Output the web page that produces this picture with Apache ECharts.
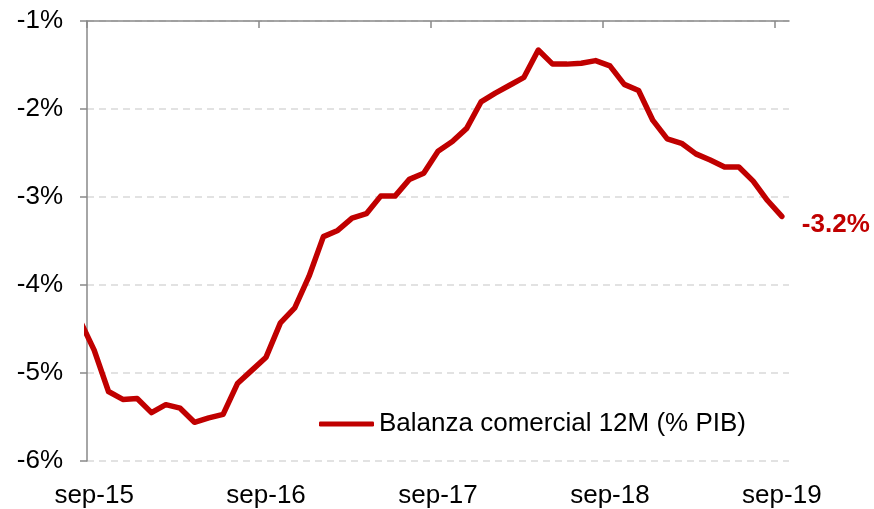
<!DOCTYPE html>
<html>
<head>
<meta charset="utf-8">
<script src="https://cdn.jsdelivr.net/npm/echarts@6/dist/echarts.min.js"></script>
<style>
  html, body { margin: 0; padding: 0; background: #fff; }
  #chart { width: 874px; height: 509px; }
</style>
</head>
<body>
<div id="chart"></div>
<script>
// meses sep-15 .. sep-19
const monthNames = ['sep', 'oct', 'nov', 'dic', 'ene', 'feb', 'mar', 'abr', 'may', 'jun', 'jul', 'ago'];
const months = [];
for (let i = 0; i < 49; i++) {
  const yr = 15 + Math.floor((i + 8) / 12);
  months.push(monthNames[i % 12] + '-' + yr);
}

// ago-15, recortado por el borde izquierdo
const prevValue = -4.40;

const values = [
  -4.74, -5.21, -5.30, -5.29, -5.45, -5.36, -5.40, -5.56, -5.51, -5.47, -5.12, -4.97,
  -4.82, -4.43, -4.26, -3.90, -3.45, -3.38, -3.24, -3.19, -2.99, -2.99, -2.80, -2.73,
  -2.48, -2.37, -2.22, -1.92, -1.82, -1.73, -1.64, -1.33, -1.49, -1.49, -1.48, -1.45,
  -1.51, -1.72, -1.79, -2.13, -2.34, -2.39, -2.51, -2.58, -2.66, -2.66, -2.82, -3.04,
  -3.22
];

const yTicks = [-6, -5, -4, -3, -2, -1];
// marcas del eje superior, entre meses (ago/sep)
const topTicks = [-0.5, 11.5, 23.5, 35.5, 47.5];
const seriesName = 'Balanza comercial 12M (% PIB)';

const red = '#C00000';
const axisGray = '#898989';
const font = 'Liberation Sans, Arial, sans-serif';

const lineData = [[-1, prevValue]].concat(values.map((v, i) => [i, v]));

const chart = echarts.init(document.getElementById('chart'));
chart.setOption({
  animation: false,
  backgroundColor: '#fff',
  textStyle: { fontFamily: font },
  grid: { left: 87, right: 85, top: 21, bottom: 44, containLabel: false },
  legend: {
    data: [{ name: seriesName, icon: 'roundRect' }],
    left: 319,
    top: 411,
    padding: 0,
    itemWidth: 55,
    itemHeight: 5,
    textStyle: { fontSize: 26, color: '#000', fontFamily: font }
  },
  xAxis: [{
    type: 'category',
    position: 'bottom',
    data: months,
    boundaryGap: true,
    axisLine: { show: false },
    axisTick: { show: false },
    axisLabel: { interval: 11, fontSize: 26, color: '#000', margin: 22, fontFamily: font },
    splitLine: { show: false }
  }, {
    type: 'value',
    position: 'top',
    min: -0.5,
    max: 48.5,
    axisLine: { show: true, onZero: false, lineStyle: { color: axisGray, width: 1.5 } },
    axisTick: { show: true, inside: true, length: 7, customValues: topTicks, lineStyle: { color: axisGray, width: 1.5 } },
    axisLabel: { show: false },
    splitLine: { show: false }
  }],
  yAxis: {
    type: 'value',
    min: yTicks[0],
    max: yTicks[yTicks.length - 1],
    interval: 1,
    axisLine: { show: true, onZero: false, lineStyle: { color: axisGray, width: 1.5 } },
    axisTick: { show: true, length: 7, lineStyle: { color: axisGray, width: 1.5 } },
    axisLabel: {
      fontSize: 26, color: '#000', margin: 24, fontFamily: font,
      formatter: v => v + '%'
    },
    splitLine: { show: true, lineStyle: { color: '#d9d9d9', width: 1.5, type: [7, 5] } }
  },
  series: [{
    name: seriesName,
    type: 'line',
    xAxisIndex: 1,
    data: lineData,
    symbol: 'none',
    clip: true,
    lineStyle: { color: red, width: 5.5, cap: 'round', join: 'round' },
    itemStyle: { color: red },
    endLabel: {
      show: true,
      distance: 20,
      offset: [0, 8],
      color: red,
      fontSize: 26,
      fontWeight: 'bold',
      fontFamily: font,
      formatter: p => p.value[1].toFixed(1) + '%'
    }
  }]
});
</script>
</body>
</html>
